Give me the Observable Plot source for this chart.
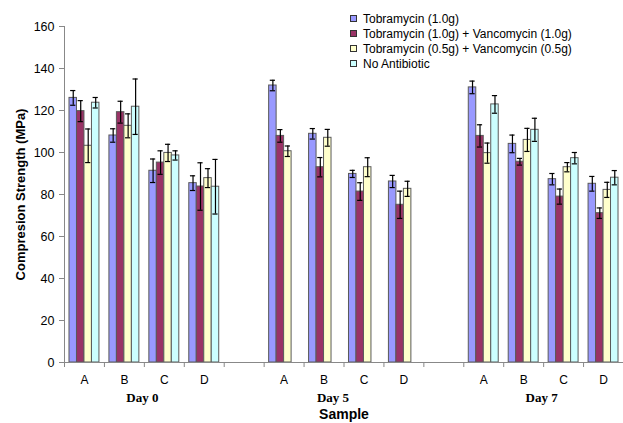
<!DOCTYPE html>
<html>
<head>
<meta charset="utf-8">
<script src="https://cdn.jsdelivr.net/npm/d3@7"></script>
<script src="https://cdn.jsdelivr.net/npm/@observablehq/plot@0.6"></script>
<style>
  html, body { margin: 0; padding: 0; background: #fff; overflow: hidden; }
  #wrap { position: relative; width: 623px; height: 423px; font-family: "Liberation Sans", Arial, sans-serif; }
  #legend { position: absolute; left: 350px; top: 11px; font-size: 12px; color: #000; }
  #legend .row { display: flex; align-items: center; height: 15px; }
  #legend .sw { width: 7px; height: 7px; border: 1px solid #333; margin-right: 6px; box-sizing: border-box; }
</style>
</head>
<body>
<div id="wrap"><div id="legend"></div></div>
<script>
const days = ["Day 0", "Day 5", "Day 7"];
const samples = ["A", "B", "C", "D"];
const seriesNames = ["Tobramycin (1.0g)", "Tobramycin (1.0g) + Vancomycin (1.0g)", "Tobramycin (0.5g) + Vancomycin (0.5g)", "No Antibiotic"];
const seriesColors = ["#9999FF", "#993366", "#FFFFCC", "#CCFFFF"];

// values ordered Day0 A-D, Day5 A-D, Day7 A-D
const tobra10 =      [126.0, 108.1, 91.3, 85.4,  131.9, 108.9, 89.8, 86.2,  131.0, 104.1, 87.3, 85.1];
const tobraVanc10 =  [119.7, 119.2, 95.2, 83.8,  107.9,  93.0, 81.4, 75.1,  107.9,  95.6, 79.0, 71.1];
const tobraVanc05 =  [103.2, 112.7, 99.8, 87.8,  100.6, 107.0, 93.0, 82.7,   99.7, 106.0, 93.0, 82.2];
const noAntibiotic = [123.7, 121.8, 98.6, 83.7,   null,  null, null, null,  122.9, 110.8, 97.3, 88.0];

const errTobra10 =      [3.5, 3.2, 5.6, 3.5,  2.5, 2.5, 1.7, 2.9,  3.0, 4.2, 2.7, 3.5];
const errTobraVanc10 =  [5.0, 5.2, 5.6, 11.3, 3.0, 4.6, 4.2, 6.5,  5.3, 1.6, 3.6, 2.5];
const errTobraVanc05 =  [8.0, 5.7, 4.1, 4.5,  2.5, 4.0, 4.5, 3.6,  4.8, 5.5, 2.2, 3.6];
const errNoAntibiotic = [2.5, 13.2, 2.2, 13.0, null, null, null, null, 4.2, 5.5, 2.7, 3.4];

const yTicks = [0, 20, 40, 60, 80, 100, 120, 140, 160];

const seriesVals = [tobra10, tobraVanc10, tobraVanc05, noAntibiotic];
const seriesErrs = [errTobra10, errTobraVanc10, errTobraVanc05, errNoAntibiotic];

// slot layout: 4 samples per day, one empty slot between days
const slotsPerDay = samples.length + 1;
const nSlots = days.length * slotsPerDay - 1;
const groupPad = 0.125;
const barW = (1 - 2 * groupPad) / seriesNames.length;

const rows = [];
days.forEach((day, di) => {
  samples.forEach((s, si) => {
    const k = di * samples.length + si;
    const slot = di * slotsPerDay + si;
    seriesNames.forEach((name, ki) => {
      const v = seriesVals[ki][k];
      if (v == null) return;
      const x1 = slot + groupPad + ki * barW;
      rows.push({day, sample: s, series: name, value: v, err: seriesErrs[ki][k],
                 x1, x2: x1 + barW, xc: x1 + barW / 2});
    });
  });
});

const sampleLabels = [];
days.forEach((day, di) => samples.forEach((s, si) => sampleLabels.push({label: s, x: di * slotsPerDay + si + 0.5})));
const dayLabels = days.map((d, di) => ({label: d, x: di * slotsPerDay + samples.length / 2}));
const xTicks = d3.range(0, nSlots + 1);

const capHalf = 0.065;
const dayFont = {y: 0, dy: 35, text: "label", fontSize: 13, fontWeight: "bold", fontFamily: "Liberation Serif, Times New Roman, serif", fill: "#000"};

const chart = Plot.plot({
  width: 623,
  height: 423,
  marginLeft: 64,
  marginRight: 0,
  marginTop: 26,
  marginBottom: 61,
  style: {fontFamily: "Liberation Sans, Arial, sans-serif", fontSize: "12px", color: "#000", background: "#fff", overflow: "visible"},
  x: {type: "linear", domain: [0, nSlots], axis: null},
  y: {type: "linear", domain: [0, 160], axis: null},
  color: {domain: seriesNames, range: seriesColors},
  marks: [
    Plot.rectY(rows, {x1: "x1", x2: "x2", y1: 0, y2: "value", fill: "series", stroke: "#5a5a5a", strokeWidth: 1}),
    Plot.ruleX(rows, {x: "xc", y1: d => d.value - d.err, y2: d => d.value + d.err, stroke: "#000", strokeWidth: 1.2}),
    Plot.ruleY(rows, {y: d => d.value + d.err, x1: d => d.xc - capHalf, x2: d => d.xc + capHalf, stroke: "#000", strokeWidth: 1.2}),
    Plot.ruleY(rows, {y: d => d.value - d.err, x1: d => d.xc - capHalf, x2: d => d.xc + capHalf, stroke: "#000", strokeWidth: 1.2}),
    // axes
    Plot.ruleX([0], {y1: 0, y2: 160, stroke: "#888", strokeWidth: 1}),
    Plot.ruleY([0], {x1: 0, x2: nSlots, stroke: "#888", strokeWidth: 1}),
    Plot.axisY({ticks: yTicks, tickSize: 5, tickPadding: 5, stroke: "#888", fill: "#000", fontSize: 12.5, label: null}),
    Plot.ruleX(xTicks, {x: d => d, y1: 0, y2: 0, insetBottom: -5, stroke: "#888"}),
    Plot.text(sampleLabels, {x: "x", y: 0, dy: 18, text: "label", fontSize: 12, fill: "#000"}),
    Plot.text(dayLabels.filter(d => d.label !== "Day 5"), {x: "x", dx: -2, ...dayFont}),
    Plot.text(dayLabels.filter(d => d.label === "Day 5"), {x: "x", dx: -11, ...dayFont}),
    Plot.text(["Sample"], {x: nSlots / 2, y: 0, dy: 52, text: d => d, fontSize: 14, fontWeight: "bold", fill: "#000"}),
    Plot.text(["Compresion Strength (MPa)"], {x: 0, y: 80, dx: -44, rotate: -90, text: d => d, fontSize: 13, fontWeight: "bold", fill: "#000"})
  ]
});

const wrap = document.getElementById("wrap");
wrap.insertBefore(chart, wrap.firstChild);

const legend = document.getElementById("legend");
seriesNames.forEach((name, i) => {
  const row = document.createElement("div");
  row.className = "row";
  const sw = document.createElement("span");
  sw.className = "sw";
  sw.style.background = seriesColors[i];
  const t = document.createElement("span");
  t.textContent = name;
  row.appendChild(sw);
  row.appendChild(t);
  legend.appendChild(row);
});
</script>
</body>
</html>
